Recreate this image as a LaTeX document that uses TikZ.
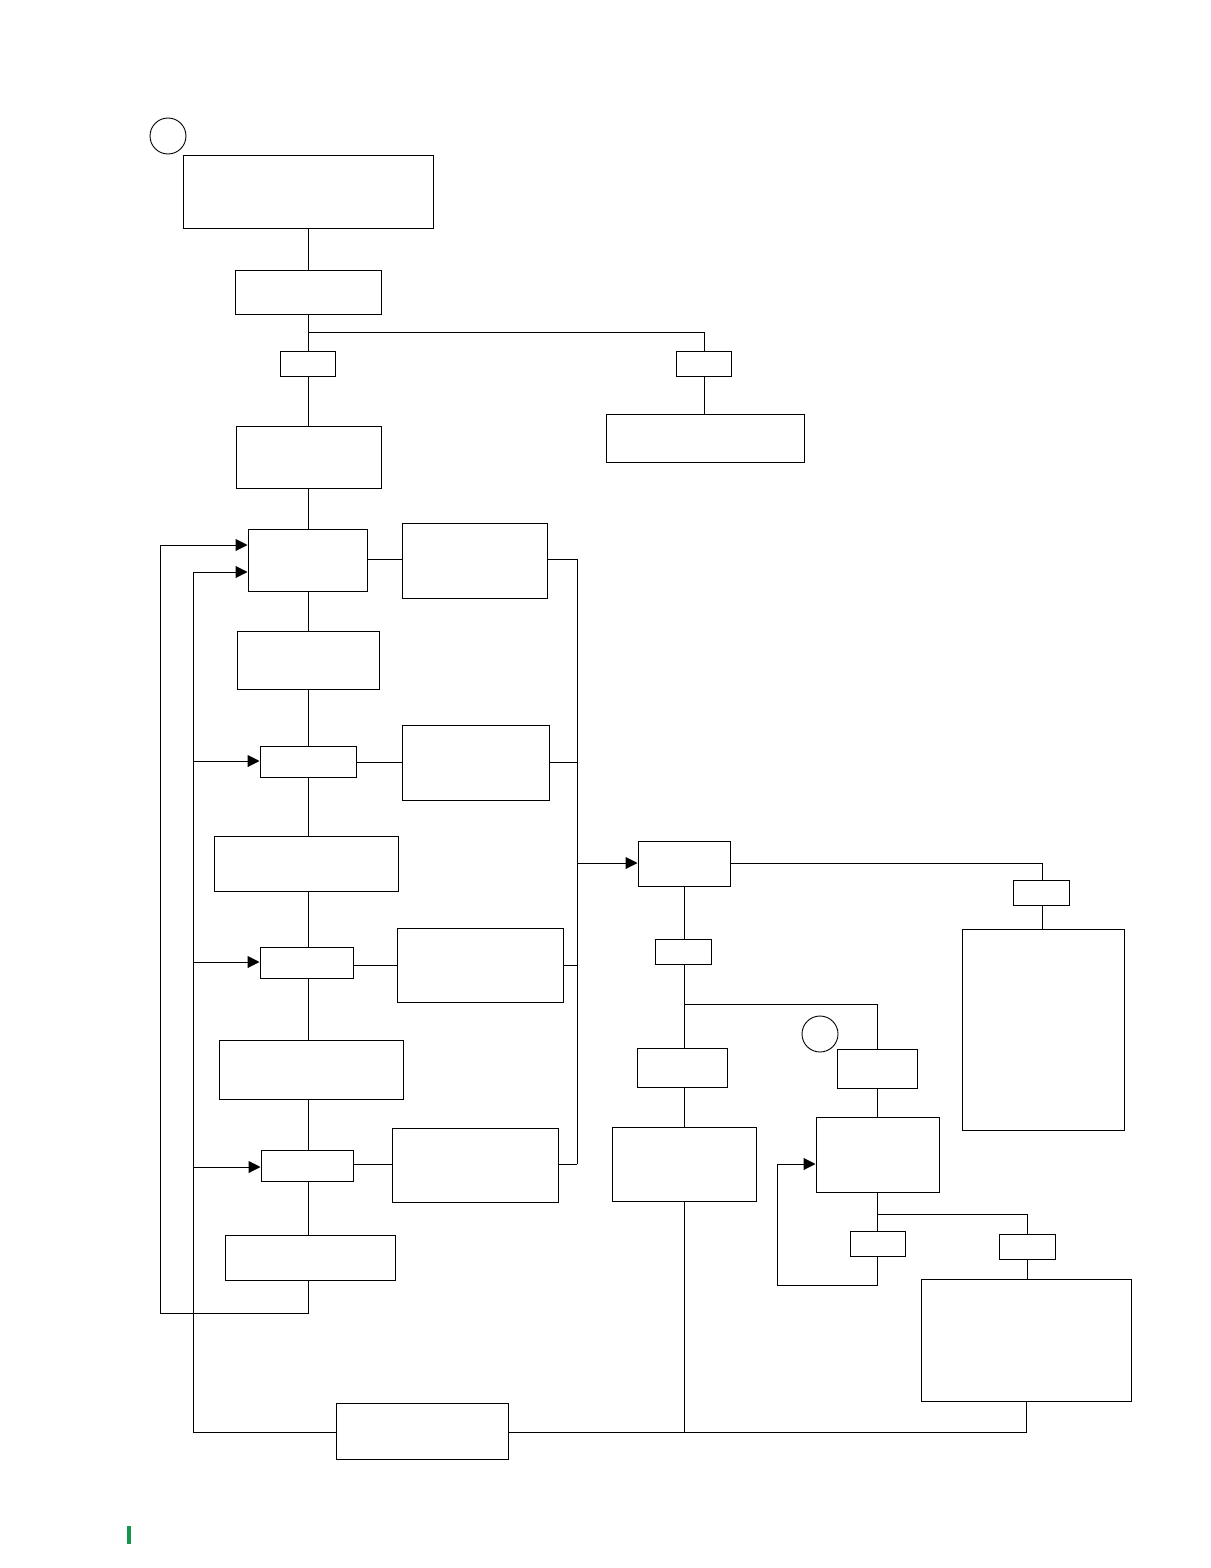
\documentclass[tikz,border=0pt]{standalone}
\usetikzlibrary{arrows.meta}
\definecolor{markgreen}{RGB}{20,150,80}
\begin{document}
\begin{tikzpicture}[x=1pt,y=-1pt,
  bx/.style={draw=black,line width=1pt,inner sep=0pt,fill=white},
  ln/.style={draw=black,line width=1pt},
  arr/.style={ln,-{Triangle[length=12pt,width=12pt]}},
  circ/.style={draw=black,line width=0.9pt,circle,inner sep=0pt,minimum size=36pt}]
\useasboundingbox (0,0) rectangle (1210,1568);
% left column
\node[bx,minimum width=250pt,minimum height=73pt] (A) at (308,191.5) {};
\node[bx,minimum width=146pt,minimum height=44pt] (B) at (308,292) {};
\node[bx,minimum width=55pt,minimum height=25pt] (C1) at (308,363.5) {};
\node[bx,minimum width=55pt,minimum height=25pt] (C2) at (704,363.5) {};
\node[bx,minimum width=198pt,minimum height=48pt] (D) at (705,438) {};
\node[bx,minimum width=145pt,minimum height=62pt] (E) at (308.5,457) {};
\node[bx,minimum width=119pt,minimum height=62pt] (F) at (307.5,560) {};
\node[bx,minimum width=145pt,minimum height=75pt] (G) at (474.5,560.5) {};
\node[bx,minimum width=142pt,minimum height=58pt] (H) at (308,660) {};
\node[bx,minimum width=96pt,minimum height=31pt] (I1) at (308,761.5) {};
\node[bx,minimum width=147pt,minimum height=75pt] (J) at (475.5,762.5) {};
\node[bx,minimum width=184pt,minimum height=55pt] (K) at (306,863.5) {};
\node[bx,minimum width=93pt,minimum height=31pt] (I2) at (306.5,962.5) {};
\node[bx,minimum width=166pt,minimum height=74pt] (L) at (480,965) {};
\node[bx,minimum width=184pt,minimum height=59pt] (N) at (311,1069.5) {};
\node[bx,minimum width=92pt,minimum height=31pt] (I3) at (307,1165.5) {};
\node[bx,minimum width=166pt,minimum height=74pt] (O) at (475,1165) {};
\node[bx,minimum width=170pt,minimum height=45pt] (P) at (310,1257.5) {};
\node[bx,minimum width=172pt,minimum height=56pt] (Q) at (422,1431) {};
% right part
\node[bx,minimum width=92pt,minimum height=45pt] (M) at (684,863.5) {};
\node[bx,minimum width=56pt,minimum height=25pt] (R) at (1041,892.5) {};
\node[bx,minimum width=162pt,minimum height=201pt] (S) at (1043,1029.5) {};
\node[bx,minimum width=56pt,minimum height=25pt] (T) at (683,951.5) {};
\node[bx,minimum width=90pt,minimum height=39pt] (U1) at (682,1067.5) {};
\node[bx,minimum width=144pt,minimum height=74pt] (U2) at (684,1164) {};
\node[bx,minimum width=80pt,minimum height=39pt] (V) at (877,1068.5) {};
\node[bx,minimum width=123pt,minimum height=75pt] (W) at (877.5,1154.5) {};
\node[bx,minimum width=55pt,minimum height=25pt] (X) at (877.5,1243.5) {};
\node[bx,minimum width=56pt,minimum height=25pt] (Y) at (1027,1246.5) {};
\node[bx,minimum width=210pt,minimum height=122pt] (Z) at (1026,1340) {};
% circles
\node[circ] (c1) at (168,136) {};
\node[circ] (c2) at (820,1034) {};
% green mark
\fill[markgreen] (127,1526) rectangle (131,1544);
% coordinates
\coordinate (j1) at (308,332);
\coordinate (mTop) at (577,559);
\coordinate (mBot) at (577,1164);
\coordinate (mMid) at (577,863);
\coordinate (loopA) at (160,1313);
\coordinate (loopB) at (160,545);
\coordinate (inTop) at (193,572);
\coordinate (inBot) at (193,1432);
\coordinate (j2) at (684,1004);
\coordinate (j3) at (877,1214);
\coordinate (fbA) at (777,1285);
\coordinate (fbB) at (777,1164);
% main column connectors
\draw[ln] (A.south) -- (A.south |- B.north);
\draw[ln] (B.south) -- (B.south |- C1.north);
\draw[ln] (j1) -| (C2.north);
\draw[ln] (C1.south) -- (C1.south |- E.north);
\draw[ln] (C2.south) -- (C2.south |- D.north);
\draw[ln] (E.south -| j1) -- (j1 |- F.north);
\draw[ln] (F.south -| j1) -- (j1 |- H.north);
\draw[ln] (H.south -| j1) -- (j1 |- I1.north);
\draw[ln] (I1.south -| j1) -- (j1 |- K.north);
\draw[ln] (K.south -| j1) -- (j1 |- I2.north);
\draw[ln] (I2.south -| j1) -- (j1 |- N.north);
\draw[ln] (N.south -| j1) -- (j1 |- I3.north);
\draw[ln] (I3.south -| j1) -- (j1 |- P.north);
% side boxes
\draw[ln] (F.east |- mTop) -- (G.west |- mTop);
\draw[ln] (G.east |- mTop) -- (mTop);
\draw[ln] (I1.east |- 0,762) -- (J.west |- 0,762);
\draw[ln] (J.east |- 0,762) -- (mTop |- 0,762);
\draw[ln] (I2.east |- 0,965) -- (L.west |- 0,965);
\draw[ln] (L.east |- 0,965) -- (mTop |- 0,965);
\draw[ln] (I3.east |- mBot) -- (O.west |- mBot);
\draw[ln] (O.east |- mBot) -- (mBot);
\draw[ln] (mTop) -- (mBot);
\draw[arr] (mMid) -- (M.west |- mMid);
% loops on the left
\draw[arr] (P.south -| j1) |- (loopA) -- (loopB) -- (loopB -| F.west);
\draw[arr] (Q.west |- inBot) -- (inBot) -- (inTop) -- (inTop -| F.west);
\draw[arr] (inTop |- 0,761) -- (I1.west |- 0,761);
\draw[arr] (inTop |- 0,962) -- (I2.west |- 0,962);
\draw[arr] (inTop |- 0,1167) -- (I3.west |- 0,1167);
% bottom line
\draw[ln] (Q.east |- inBot) -| (Z.south);
\draw[ln] (U2.south) -- (U2.south |- inBot);
% right part connectors
\draw[ln] (M.east |- mMid) -| (R.north -| 1042,0);
\draw[ln] (R.south -| 1042,0) -- (S.north -| 1042,0);
\draw[ln] (M.south) -- (M.south |- T.north);
\draw[ln] (T.south -| M.south) -- (M.south |- U1.north);
\draw[ln] (j2) -| (V.north);
\draw[ln] (U1.south -| M.south) -- (M.south |- U2.north);
\draw[ln] (V.south) -- (V.south |- W.north);
\draw[ln] (W.south -| V.south) -- (V.south |- X.north);
\draw[ln] (j3) -| (Y.north);
\draw[arr] (X.south -| V.south) |- (fbA) -- (fbB) -- (W.west |- fbB);
\draw[ln] (Y.south) -- (Y.south |- Z.north);
\end{tikzpicture}
\end{document}
